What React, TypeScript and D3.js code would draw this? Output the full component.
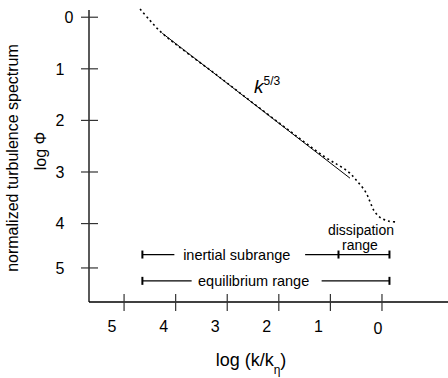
import React from "react";
import * as d3 from "d3";

// ---- data ----
const xTickValues = [5, 4, 3, 2, 1, 0];
const xTickLabels = ["5", "4", "3", "2", "1", "0"];
const yTickValues = [0, 1, 2, 3, 4, 4.86];
const yTickLabels = ["0", "1", "2", "3", "4", "5"];

// measured spectrum (log k/kη, log Φ)
const spectrumX = [4.69, 4.5, 4.26, 3.14, 1.98, 1.12, 0.66, 0.47, 0.31, 0.23, 0.16, 0.04, -0.12, -0.29];
const spectrumY = [-0.16, 0.06, 0.31, 1.17, 2.06, 2.7, 2.99, 3.19, 3.4, 3.58, 3.74, 3.88, 3.95, 3.97];

// k^-5/3 reference line
const slopeX = [4.26, 0.62];
const slopeY = [0.31, 3.12];

// range annotations
const rangeNames = ["inertial subrange", "equilibrium range"];
const rangeFrom = [4.645, 4.645];
const rangeTo = [-0.145, -0.145];
const rangeLevel = [4.6, 5.11];
const rangeGapFrom = [4.025, 3.69];
const rangeGapTo = [1.49, 1.17];
const dissipationFrom = 0.843;

const W = 448;
const H = 378;
const FONT = "'Liberation Sans', Arial, Helvetica, sans-serif";

export default function App() {
  const x = d3.scaleLinear().domain([5.68, -1.28]).range([89, 448]);
  const y = d3.scaleLinear().domain([-0.14, 5.52]).range([10, 302]);

  const pts: [number, number][] = spectrumX.map((v, i) => [v, spectrumY[i]]);
  const specLine = d3
    .line<[number, number]>()
    .x((d) => x(d[0]))
    .y((d) => y(d[1]))
    .curve(d3.curveCatmullRom.alpha(0.5));

  const refPts: [number, number][] = slopeX.map((v, i) => [v, slopeY[i]]);
  const refLine = d3
    .line<[number, number]>()
    .x((d) => x(d[0]))
    .y((d) => y(d[1]));

  const [x0, x1] = x.domain();
  const [y0, y1] = y.domain();
  const axisBottom = y(y1);
  const axisLeft = x(x0);

  const cap = (cx: number, cy: number, key: string) => (
    <line key={key} x1={cx} x2={cx} y1={cy - 4} y2={cy + 4} stroke="#000" strokeWidth={2} />
  );

  return (
    <svg
      width={W}
      height={H}
      style={{ position: "absolute", left: 0, top: 0, background: "#fff" }}
      fontFamily={FONT}
    >
      {/* axes */}
      <line x1={axisLeft} x2={axisLeft} y1={y(y0)} y2={axisBottom} stroke="#000" strokeWidth={1.3} />
      <line x1={axisLeft} x2={x(x1)} y1={axisBottom} y2={axisBottom} stroke="#000" strokeWidth={1.3} />

      {yTickValues.map((v, i) => (
        <g key={"yt" + i}>
          <line x1={axisLeft - 8} x2={axisLeft + 9} y1={y(v)} y2={y(v)} stroke="#333" strokeWidth={1.2} />
          <text
            x={i === 0 ? 69 : 60}
            y={y(v)}
            dy="0.36em"
            textAnchor="middle"
            fontSize={16}
            fill="#000"
          >
            {yTickLabels[i]}
          </text>
        </g>
      ))}

      {xTickValues.map((v, i) => (
        <g key={"xt" + i}>
          <line x1={x(v)} x2={x(v)} y1={axisBottom - 8} y2={axisBottom + 9} stroke="#333" strokeWidth={1.2} />
          <text
            x={x(v) - (v === 0 ? 4 : 12)}
            y={axisBottom + (v === 0 ? 32 : 30)}
            textAnchor="middle"
            fontSize={16}
            fill="#000"
          >
            {xTickLabels[i]}
          </text>
        </g>
      ))}

      {/* axis titles */}
      <text x={251} y={366} textAnchor="middle" fontSize={18} fill="#000">
        log (k/k
        <tspan fontSize={12} dy={8}>η</tspan>
        <tspan dy={-8}>)</tspan>
      </text>
      <text
        transform={`translate(18,158) rotate(-90)`}
        textAnchor="middle"
        fontSize={16}
        fill="#000"
      >
        normalized turbulence spectrum
      </text>
      <text transform={`translate(46,151) rotate(-90)`} textAnchor="middle" fontSize={16} fill="#000">
        log Φ
      </text>

      {/* reference k^-5/3 line */}
      <path d={refLine(refPts) || ""} fill="none" stroke="#000" strokeWidth={1} />
      {/* spectrum */}
      <path
        d={specLine(pts) || ""}
        fill="none"
        stroke="#000"
        strokeWidth={1.6}
        strokeDasharray="2,3"
      />
      <text x={254} y={93} fontSize={19} fontStyle="italic" fill="#000">
        k
        <tspan fontSize={12} fontStyle="normal" dy={-8}>5/3</tspan>
      </text>

      {/* range annotations */}
      {rangeNames.map((name, i) => {
        const ly = y(rangeLevel[i]);
        const a = x(rangeFrom[i]);
        const b = x(rangeTo[i]);
        const g0 = x(rangeGapFrom[i]);
        const g1 = x(rangeGapTo[i]);
        return (
          <g key={"r" + i}>
            <line x1={a} x2={g0} y1={ly} y2={ly} stroke="#000" strokeWidth={1.2} />
            <line x1={g1} x2={b} y1={ly} y2={ly} stroke="#000" strokeWidth={1.2} />
            {cap(a, ly, "ca" + i)}
            {cap(b, ly, "cb" + i)}
            <text
              x={(g0 + g1) / 2 - 3}
              y={ly + 5}
              textAnchor="middle"
              fontSize={14.5}
              fill="#000"
            >
              {name}
            </text>
          </g>
        );
      })}
      {cap(x(dissipationFrom), y(rangeLevel[0]), "cd")}
      <text
        x={(x(dissipationFrom) + x(rangeTo[0])) / 2 - 3}
        y={y(rangeLevel[0]) - 20}
        textAnchor="middle"
        fontSize={14}
        fill="#000"
      >
        dissipation
      </text>
      <text
        x={(x(dissipationFrom) + x(rangeTo[0])) / 2 - 4}
        y={y(rangeLevel[0]) - 5}
        textAnchor="middle"
        fontSize={14}
        fill="#000"
      >
        range
      </text>
    </svg>
  );
}
